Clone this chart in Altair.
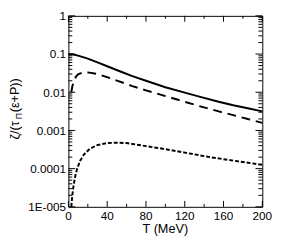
import altair as alt
import pandas as pd

# ---- data ----
T_solid = [0, 5, 10, 20, 30, 40, 55, 66, 80, 100, 120, 136, 155, 170, 185, 200]
v_solid = [0.1, 0.0977, 0.0912, 0.0759, 0.0603, 0.0479, 0.0339, 0.0263, 0.0200,
           0.0135, 0.00977, 0.00759, 0.00562, 0.00457, 0.00380, 0.00316]

T_dash = [3, 4, 6, 8, 10, 14, 20, 30, 45, 66, 80, 100, 120, 136, 155, 170, 185, 200]
v_dash = [0.010, 0.0141, 0.0209, 0.0263, 0.0295, 0.0324, 0.0331, 0.0302, 0.0224,
          0.0145, 0.0112, 0.00794, 0.00562, 0.00427, 0.00316, 0.00251, 0.00200, 0.00158]

T_dot = [3, 4, 5, 7, 9, 12, 16, 22, 29, 40, 50, 60, 80, 100, 120, 146, 170, 200]
v_dot = [1.0e-5, 2.0e-5, 3.16e-5, 6.3e-5, 1.0e-4, 1.58e-4, 2.34e-4, 3.31e-4, 4.07e-4,
         4.68e-4, 4.79e-4, 4.68e-4, 3.89e-4, 3.24e-4, 2.63e-4, 2.0e-4, 1.62e-4, 1.26e-4]

x_label_values = [0, 40, 80, 120, 160, 200]
x_label_texts = ["0", "40", "80", "120", "160", "200"]
x_minor_values = [20, 60, 100, 140, 180]
y_label_values = [1e-5, 1e-4, 1e-3, 1e-2, 1e-1, 1]
y_label_texts = ["1E-005", "0.0001", "0.001", "0.01", "0.1", "1"]
y_minor_values = [m * 10.0 ** e for e in range(-5, 0) for m in range(2, 10)]

W, H = 199, 196
FONT = "Liberation Sans"

xs = alt.Scale(domain=[0, 200], nice=False)
ys = alt.Scale(type="log", domain=[1e-5, 1], nice=False)

label_expr = " : ".join(
    f"datum.value < {v * 1.5} ? '{t}'" for v, t in zip(y_label_values, y_label_texts)
) + " : ''"

df_s = pd.DataFrame({"T": T_solid, "v": v_solid})
df_d = pd.DataFrame({"T": T_dash, "v": v_dash})
df_o = pd.DataFrame({"T": T_dot, "v": v_dot})

base_x = alt.X("T:Q", scale=xs,
               axis=alt.Axis(values=x_label_values, labels=False, title=None))
base_y = alt.Y("v:Q", scale=ys,
               axis=alt.Axis(values=y_label_values, labelExpr=label_expr, title=None))

solid = alt.Chart(df_s).mark_line(color="black", strokeWidth=2).encode(x=base_x, y=base_y)
dashed = alt.Chart(df_d).mark_line(color="black", strokeWidth=2, strokeDash=[9, 6]).encode(
    x=alt.X("T:Q", scale=xs), y=alt.Y("v:Q", scale=ys))
dotted = alt.Chart(df_o).mark_line(color="black", strokeWidth=2, strokeDash=[4, 2]).encode(
    x=alt.X("T:Q", scale=xs), y=alt.Y("v:Q", scale=ys))

# inward ticks
ymaj = pd.DataFrame({"v": y_label_values})
ymin = pd.DataFrame({"v": y_minor_values})
xmaj = pd.DataFrame({"T": x_label_values})
xmin = pd.DataFrame({"T": x_minor_values})

def yt(df, x1, x2):
    return alt.Chart(df).mark_rule(color="black", strokeWidth=1).encode(
        y=alt.Y("v:Q", scale=ys), x=alt.value(x1), x2=alt.value(x2))

def xt(df, y1, y2):
    return alt.Chart(df).mark_rule(color="black", strokeWidth=1).encode(
        x=alt.X("T:Q", scale=xs), y=alt.value(y1), y2=alt.value(y2))

ticks = [
    yt(ymaj, 0, 7), yt(ymin, 0, 4), yt(ymaj, W, W - 7), yt(ymin, W, W - 4),
    xt(xmaj, H, H - 6), xt(xmin, H, H - 3), xt(xmaj, 0, 6), xt(xmin, 0, 3),
]

# x tick labels and title as text
xlab_df = pd.DataFrame({"T": x_label_values, "lab": x_label_texts})
xlabels = alt.Chart(xlab_df).mark_text(font=FONT, fontSize=12, color="black",
                                       baseline="middle", align="center").encode(
    x=alt.X("T:Q", scale=xs), y=alt.value(H + 9), text="lab:N")
xtitle = alt.Chart(pd.DataFrame({"a": [0]})).mark_text(
    text="T (MeV)", font=FONT, fontSize=13, color="black", baseline="middle",
    align="center").encode(x=alt.value(W / 2), y=alt.value(H + 23))

# y title with subscript
tf = pd.DataFrame({"a": [0]})
y0 = 127
def ttext(txt, x, y, size):
    return alt.Chart(tf).mark_text(text=txt, angle=270, align="left", baseline="alphabetic",
                                   font=FONT, fontSize=size, color="black").encode(
        x=alt.value(x), y=alt.value(y))

title_parts = [
    ttext("ζ/(τ", -51, y0, 13),
    ttext("Π", -48, y0 - 21, 9),
    ttext("(ε+P))", -51, y0 - 28, 13),
]

chart = alt.layer(solid, dashed, dotted, *ticks, xlabels, xtitle, *title_parts).properties(
    width=W, height=H,
    autosize=alt.AutoSizeParams(type="none"),
    padding={"left": 62, "top": 5, "right": 12, "bottom": 32},
).configure_view(stroke="black", strokeWidth=1).configure_axis(
    ticks=False, domain=False, grid=False,
    labelFont=FONT, labelFontSize=12, labelColor="black",
    labelOverlap=False, labelFlush=False, labelBound=False, labelPadding=3,
)

chart.save("out.html", embed_options={"renderer": "svg", "actions": False})
